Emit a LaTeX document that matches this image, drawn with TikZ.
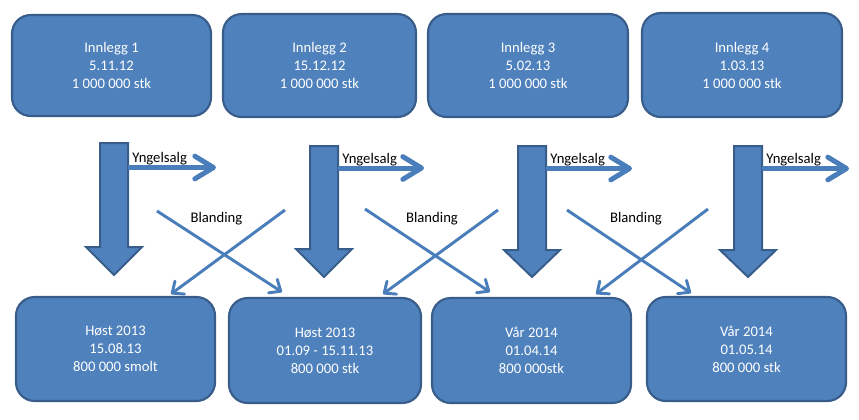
\documentclass[tikz,border=0pt]{standalone}
\usepackage{fontspec}
\setmainfont{Carlito}
\usetikzlibrary{arrows.meta}
\definecolor{boxfill}{HTML}{4F81BD}
\definecolor{boxline}{HTML}{385D8A}
\definecolor{conn}{HTML}{4A7EBB}
\tikzset{
  box/.style 2 args={draw=boxline, line width=1.6pt, fill=boxfill, rounded corners=14pt,
    minimum width=#1*0.75pt, minimum height=#2*0.75pt, align=center, text=white,
    font=\fontsize{11pt}{13.5pt}\selectfont, inner sep=0pt},
  bigarrow/.style={draw=boxline, line width=1.5pt, fill=boxfill, line join=miter},
  salg/.style={draw=conn, line width=3.75pt,
    -{Straight Barb[length=14pt,width=17pt,line cap=round,line join=round]}},
  blend/.style={draw=conn, line width=2.2pt,
    -{Straight Barb[length=7pt,width=12pt,line cap=round,line join=round]}},
  lbl/.style={font=\fontsize{11pt}{13.5pt}\selectfont, text=black, inner sep=0pt}
}
\begin{document}
\begin{tikzpicture}[x=0.75pt,y=-0.75pt]
\useasboundingbox (0,0) rectangle (859,419);
% top boxes
\node[box={199}{101}] (T1) at (111.5,65.5) {Innlegg 1\\5.11.12\\1 000 000 stk};
\node[box={193}{103}] (T2) at (319.5,65.5) {Innlegg 2\\15.12.12\\1 000 000 stk};
\node[box={200}{103}] (T3) at (528,65.5) {Innlegg 3\\5.02.13\\1 000 000 stk};
\node[box={200}{104}] (T4) at (742,65) {Innlegg 4\\1.03.13\\1 000 000 stk};
% bottom boxes
\node[box={199}{104}] (B1) at (115.5,349) {Høst 2013\\15.08.13\\800 000 smolt};
\node[box={192}{105}] (B2) at (325,350.5) {Høst 2013\\01.09 - 15.11.13\\800 000 stk};
\node[box={199}{105}] (B3) at (531.5,350.5) {Vår 2014\\01.04.14\\800 000stk};
\node[box={199}{104}] (B4) at (746.5,349) {Vår 2014\\01.05.14\\800 000 stk};
% big down arrows
\draw[bigarrow] (100,143) -- (128,143) -- (128,247) -- (142,247) -- (114,275) -- (86,247) -- (100,247) -- cycle;
\draw[bigarrow] (310,146) -- (338,146) -- (338,249) -- (352,249) -- (324,277) -- (296,249) -- (310,249) -- cycle;
\draw[bigarrow] (518,146) -- (546,146) -- (546,250) -- (560,250) -- (532,277) -- (504,250) -- (518,250) -- cycle;
\draw[bigarrow] (734,146) -- (762,146) -- (762,250) -- (776,250) -- (748,277) -- (720,250) -- (734,250) -- cycle;
% Yngelsalg arrows
\coordinate (s1a) at (128,167.5); \coordinate (s1b) at (216,167.5);
\coordinate (s2a) at (338,168);   \coordinate (s2b) at (424,168);
\coordinate (s3a) at (546,168.5); \coordinate (s3b) at (632,168.5);
\coordinate (s4a) at (762,168.5); \coordinate (s4b) at (849,168.5);
\draw[salg] (s1a) -- (s1b);
\draw[salg] (s2a) -- (s2b);
\draw[salg] (s3a) -- (s3b);
\draw[salg] (s4a) -- (s4b);
\node[lbl, anchor=base west] (y1) at (132,162.5) {Yngelsalg};
\node[lbl, anchor=base west] (y2) at (342,163) {Yngelsalg};
\node[lbl, anchor=base west] (y3) at (550,163.5) {Yngelsalg};
\node[lbl, anchor=base west] (y4) at (766,163.5) {Yngelsalg};
% Blanding crosses
\coordinate (c1a) at (157,211); \coordinate (c1b) at (282,292);
\coordinate (c1c) at (285,210); \coordinate (c1d) at (171,294);
\coordinate (c2a) at (365,209); \coordinate (c2b) at (490,292);
\coordinate (c2c) at (498,210); \coordinate (c2d) at (383,294);
\coordinate (c3a) at (567,210); \coordinate (c3b) at (691,293);
\coordinate (c3c) at (708,209); \coordinate (c3d) at (596,294);
\draw[blend] (c1a) -- (c1b);
\draw[blend] (c1c) -- (c1d);
\draw[blend] (c2a) -- (c2b);
\draw[blend] (c2c) -- (c2d);
\draw[blend] (c3a) -- (c3b);
\draw[blend] (c3c) -- (c3d);
\node[lbl, anchor=base] (b1) at (216.5,222) {Blanding};
\node[lbl, anchor=base] (b2) at (432,222) {Blanding};
\node[lbl, anchor=base] (b3) at (636,222) {Blanding};
\end{tikzpicture}
\end{document}
